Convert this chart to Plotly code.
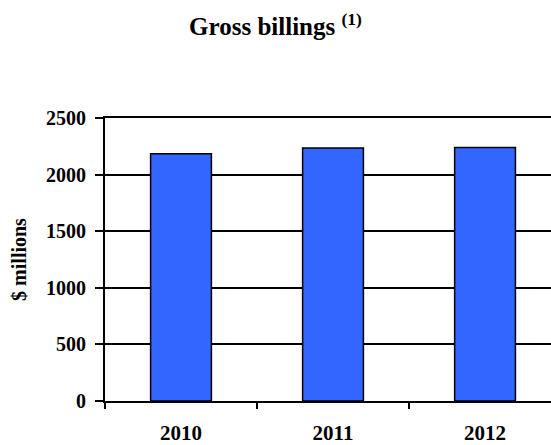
import plotly.graph_objects as go

years = ["2010", "2011", "2012"]
billings = [2185, 2235, 2240]
y_ticks = [0, 500, 1000, 1500, 2000, 2500]

FONT = "Liberation Serif, Times New Roman, serif"

fig = go.Figure()
fig.add_trace(go.Bar(
    x=years, y=billings, width=0.4,
    marker=dict(color="#3366FF", line=dict(color="black", width=1.5)),
))

fig.update_layout(
    width=551, height=445,
    margin=dict(l=105, r=0, t=118, b=44),
    paper_bgcolor="white", plot_bgcolor="white",
    showlegend=False,
    font=dict(family=FONT, color="black", size=20, weight="bold"),
    title=dict(text="<b>Gross billings <sup>(1)</sup></b>", x=0.5, xanchor="center",
               y=0.94, yanchor="middle", font=dict(size=25, family=FONT)),
    xaxis=dict(
        range=[-0.5, 2.434], showgrid=False, showline=True, linecolor="black", linewidth=2,
        mirror=True,
        ticks="outside", tickson="boundaries", ticklen=6, tickcolor="black", tickwidth=2,
        ticklabelstandoff=12, tickfont=dict(size=21, family=FONT, weight="bold"),
    ),
    yaxis=dict(
        range=[0, 2500], tickvals=y_ticks, showgrid=True, gridcolor="black", gridwidth=1.5,
        showline=True, linecolor="black", linewidth=2, zeroline=False,
        ticks="outside", ticklen=8, tickcolor="black", tickwidth=1.5,
        ticklabelstandoff=5,
        tickfont=dict(size=20, family=FONT, weight="bold"),
        title=dict(text="<b>$ millions</b>", font=dict(size=20, family=FONT), standoff=14),
    ),
)

fig.write_html("out.html", config={"displayModeBar": False},
               post_script="document.body.style.margin='0';document.body.style.padding='0';")
